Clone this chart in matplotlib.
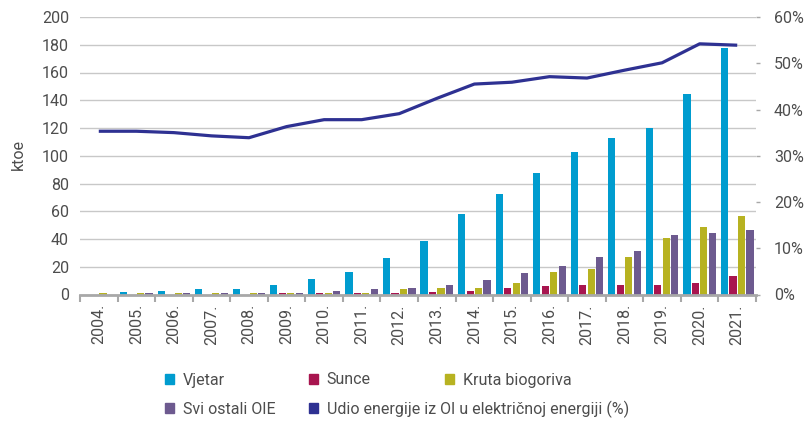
import numpy as np
import matplotlib.pyplot as plt
from matplotlib.patches import Patch
from matplotlib.ticker import FuncFormatter

plt.rcParams['font.family'] = ['Roboto', 'DejaVu Sans']

# data
years = ['2004.', '2005.', '2006.', '2007.', '2008.', '2009.', '2010.', '2011.', '2012.',
         '2013.', '2014.', '2015.', '2016.', '2017.', '2018.', '2019.', '2020.', '2021.']
vjetar = [0, 1.5, 2.5, 3.7, 3.7, 6.8, 11.2, 16.4, 26, 38.5, 57.7, 72.5, 87.4, 103, 113, 120, 144.5, 178]
sunce = [0, 0, 0, 0, 0, 1, 1, 1, 1, 1.6, 2.5, 4.9, 5.9, 6.8, 6.8, 6.8, 8, 13.3]
kruta = [1, 1, 1, 1, 1, 1, 1, 1, 3.7, 4.9, 4.9, 8, 16.4, 18.6, 27, 40.9, 48.3, 56.7]
ostali = [0, 1, 1, 1, 1, 1, 2.5, 3.7, 4.9, 6.8, 10.2, 15.2, 20.5, 27, 31.2, 42.8, 44, 46.2]
udio = [35.3, 35.3, 35.0, 34.3, 33.9, 36.3, 37.8, 37.8, 39.1, 42.4, 45.5, 45.9, 47.1, 46.8,
        48.5, 50.1, 54.2, 53.9]

c_vjetar = '#009ccf'
c_sunce = '#a8154f'
c_kruta = '#b7b221'
c_ostali = '#6d5a8f'
c_udio = '#2e3192'
txt = '#4d4d4d'
grey = '#a8a8a8'

fig = plt.figure(figsize=(8.12, 4.21), dpi=100)
ax = fig.add_axes([80/812, 1-294.5/421, 676/812, 277.5/421])

x = np.arange(len(years))
w = 0.19
step = 0.226
series = [(vjetar, c_vjetar), (sunce, c_sunce), (kruta, c_kruta), (ostali, c_ostali)]
for i, (vals, col) in enumerate(series):
    ax.bar(x + (i - 1.5) * step, vals, width=w, color=col, zorder=2)

ax.set_xlim(-0.5, len(years) - 0.5)
ax.set_ylim(0, 200)
ax.set_yticks(np.arange(0, 201, 20))
ax.yaxis.grid(True, color='#c8c8c8', lw=1)
ax.set_axisbelow(True)

ax.set_xticks(x)
ax.set_xticklabels(years, rotation=90)
ax.set_xticks(np.arange(-0.5, len(years), 1), minor=True)
ax.tick_params(axis='x', which='major', length=0, pad=7, labelsize=11.5, labelcolor=txt)
ax.tick_params(axis='x', which='minor', length=5, width=1.5, color=grey)
ax.tick_params(axis='y', length=0, pad=8, labelsize=11.5, labelcolor=txt)
for s in ['top', 'left', 'right']:
    ax.spines[s].set_visible(False)
ax.spines['bottom'].set_color(grey)
ax.spines['bottom'].set_linewidth(2)
ax.spines['bottom'].set_zorder(3)

ax2 = ax.twinx()
ax2.plot(x, udio, color=c_udio, lw=2.3, solid_capstyle='butt', zorder=4)
ax2.set_ylim(0, 60)
ax2.set_yticks(np.arange(0, 61, 10))
ax2.yaxis.set_major_formatter(FuncFormatter(lambda v, p: '{:.0f}%'.format(v)))
ax2.tick_params(axis='y', length=3, width=1, color=grey, pad=10, labelsize=11.5, labelcolor=txt)
for s in ['top', 'left', 'right', 'bottom']:
    ax2.spines[s].set_visible(False)

fig.text(18/812, 1-155/421, 'ktoe', rotation=90, ha='center', va='center', fontsize=11.5, color=txt)

# legend entries placed one by one
entries = [(c_vjetar, 'Vjetar', 165, 380), (c_sunce, 'Sunce', 309, 380),
           (c_kruta, 'Kruta biogoriva', 445, 380), (c_ostali, 'Svi ostali OIE', 165, 409),
           (c_udio, 'Udio energije iz OI u električnoj energiji (%)', 309, 409)]
for col, lab, lx, ly in entries:
    fig.legend(handles=[Patch(color=col)], labels=[lab], loc='center left',
               bbox_to_anchor=(lx/812, 1-ly/421), frameon=False, fontsize=11.5,
               labelcolor=txt, handlelength=0.55, handleheight=0.55,
               handletextpad=0.55, borderpad=0, borderaxespad=0)

fig.savefig('out.png', dpi=100)
